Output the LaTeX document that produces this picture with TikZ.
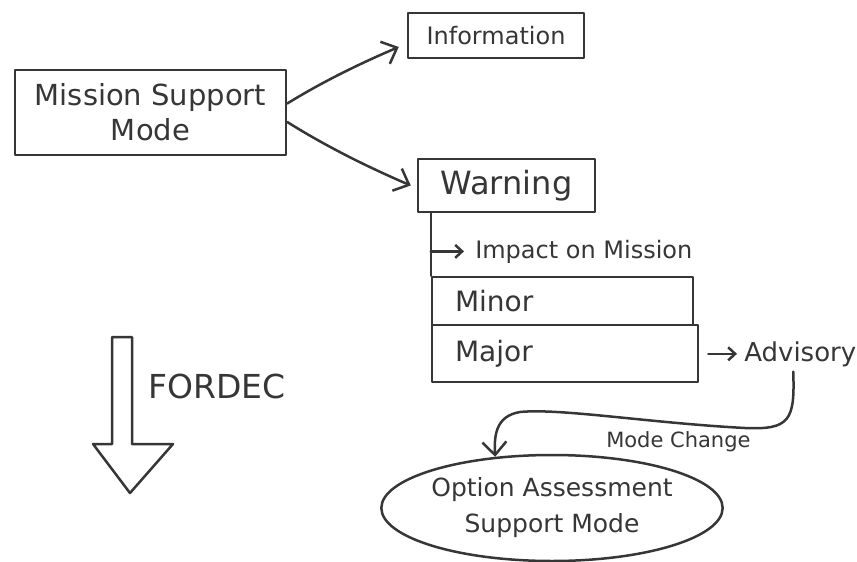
\documentclass[tikz,border=0pt]{standalone}
\usepackage{fontspec}
\setmainfont{DejaVu Sans}
\usetikzlibrary{arrows.meta,shapes.geometric,calc}
\definecolor{ink}{HTML}{363636}
\tikzset{
  box/.style={draw=ink, rectangle, inner sep=0pt},
  conn/.style={-{Straight Barb[length=13pt,width=24pt]}},
  tick/.style={-{Straight Barb[length=7pt,width=13pt]}},
  fsz/.style={font=\fontsize{#1}{#1}\selectfont},
}
\begin{document}
\begin{tikzpicture}[x=1pt, y=-1pt, line width=2.5pt, draw=ink, text=ink,
  line join=round, line cap=round]
\useasboundingbox (0,0) rectangle (857,562);

% main mode and its two kinds of message
\node[box, minimum width=271pt, minimum height=85pt, align=center,
      font=\fontsize{29}{35}\selectfont] (ms) at (150.5,112.5) {Mission Support\\Mode};
\node[box, minimum width=176pt, minimum height=45pt, fsz=24] (info) at (496,35.5) {Information};
\node[box, minimum width=177pt, minimum height=53pt, fsz=32] (warn) at (506.5,185.5) {Warning};

\coordinate (msa) at ([yshift=9pt]ms.east);
\coordinate (msb) at ([yshift=-9.5pt]ms.east);
\coordinate (infoin) at ([xshift=-8pt,yshift=-11.5pt]info.west);
\coordinate (warnin) at ([xshift=-6pt]warn.west);
\draw[conn] (msa) .. controls ($(msa)!0.33!(infoin)+(0,-4)$)
      and ($(msa)!0.67!(infoin)+(0,-3)$) .. (infoin);
\draw[conn] (msb) .. controls ($(msb)!0.33!(warnin)+(-1,4)$)
      and ($(msb)!0.67!(warnin)+(-1,3)$) .. (warnin);

% warning classification
\node[box, minimum width=261pt, minimum height=48pt, inner xsep=23pt, text width=215pt,
      align=left, fsz=28] (minor) at (562.5,301) {Minor};
\node[box, minimum width=266pt, minimum height=57pt, inner xsep=23pt, text width=220pt,
      align=left, fsz=28] (major) at (565,353.5) {Major};
\draw (warn.south -| minor.west) -- (minor.north west);

\node[anchor=base west, fsz=24, inner sep=0pt] (impact) at (474,258) {Impact on Mission};
\draw[tick] (impact.west -| minor.west) -- ([xshift=-10pt]impact.west);

\node[anchor=base west, fsz=26, inner sep=0pt] (adv) at (743,361) {Advisory};
\draw[tick] ($(major.east |- adv.west)+(9,0)$) -- ([xshift=-6pt]adv.west);

% switch to the option assessment mode
\node[draw=ink, ellipse, minimum width=328pt, minimum height=106pt, inner sep=0pt,
      align=center, font=\fontsize{25}{36}\selectfont] (oas) at (552,508)
      {Option Assessment\\Support Mode};
\coordinate (mcs) at ($(adv.south)+(-7,4)$);
\draw[conn] (mcs) .. controls (795,420) and (790,430) .. (745,428)
      .. controls (650,423) and (560,408) .. (520,412)
      .. controls (496,416) and (494,435) .. (oas.138);
\node[anchor=base west, fsz=21, inner sep=0pt] (mc) at (605,447) {Mode Change};

% FORDEC block arrow
\draw (112,337) -- (132,337) -- (132,444) -- (173,444) -- (130,493)
      -- (93,444) -- (112,444) -- cycle;
\node[anchor=base west, fsz=33, inner sep=0pt] (fordec) at (147,398) {FORDEC};
\end{tikzpicture}
\end{document}
